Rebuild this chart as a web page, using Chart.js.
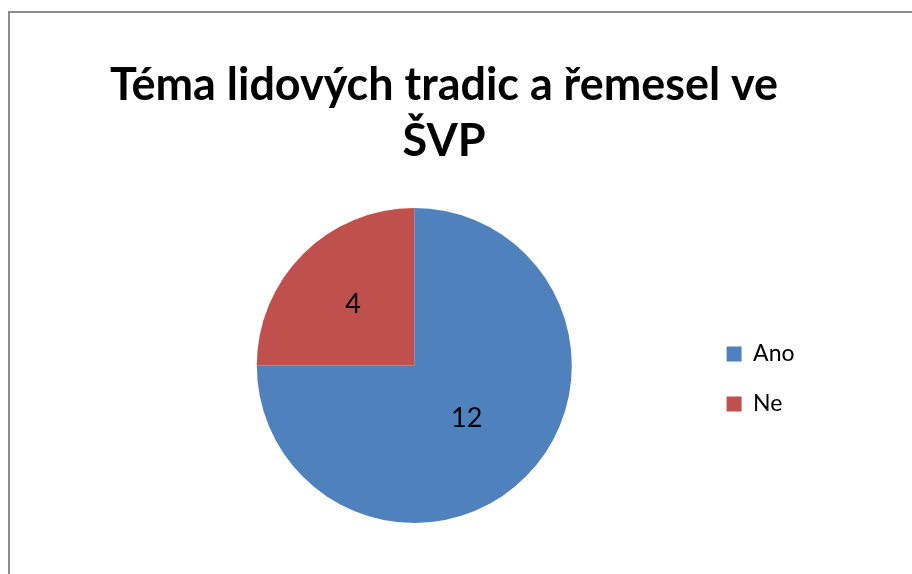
<!DOCTYPE html>
<html><head><meta charset="utf-8">
<script src="https://cdn.jsdelivr.net/npm/chart.js@4"></script>
<style>
html,body{margin:0;padding:0;background:#fff;overflow:hidden;width:912px;height:574px;}
#frame{position:absolute;left:8px;top:11px;width:1000px;height:1000px;border:2px solid #8c8c8c;box-sizing:border-box}
canvas{position:absolute;left:0;top:0}
</style></head><body>
<div id="frame"></div>
<canvas id="c" width="912" height="574"></canvas>
<script>
const titleLines = ['Téma lidových tradic a řemesel ve', 'ŠVP'];
const categories = ['Ano', 'Ne'];
const values = [12, 4];

const sliceColors = ['#4F81BD', '#C0504D'];
const labelRadiusFactor = [0.47, 0.55];
const FONT = "Lato, 'Open Sans', sans-serif";

const titlePlacement = {
  id: 'titlePlacement',
  afterLayout(chart) {
    const t = chart.titleBlock;
    if (t) { t.left = 110; t.right = 778; }
  }
};

const sliceLabels = {
  id: 'sliceLabels',
  afterDatasetsDraw(chart) {
    const ctx = chart.ctx;
    const meta = chart.getDatasetMeta(0);
    ctx.save();
    ctx.font = "27px " + FONT;
    ctx.fillStyle = '#000';
    ctx.textAlign = 'center';
    ctx.textBaseline = 'middle';
    meta.data.forEach((arc, i) => {
      const a = (arc.startAngle + arc.endAngle) / 2;
      const r = arc.outerRadius * labelRadiusFactor[i];
      const x = arc.x + Math.cos(a) * r;
      const y = arc.y + Math.sin(a) * r;
      ctx.fillText(String(chart.data.datasets[0].data[i]), x, y);
    });
    ctx.restore();
  }
};

new Chart(document.getElementById('c'), {
  type: 'pie',
  data: {
    labels: categories,
    datasets: [{ data: values, backgroundColor: sliceColors, borderWidth: 0 }]
  },
  options: {
    responsive: false,
    animation: false,
    layout: { padding: { top: 0, left: 129, right: 107.5, bottom: 51 } },
    plugins: {
      tooltip: { enabled: false },
      title: {
        display: true,
        text: titleLines,
        color: '#000',
        font: { family: FONT, size: 45, weight: 'bold', lineHeight: 56/45 },
        padding: { top: 57.5, bottom: 38.5 }
      },
      legend: {
        position: 'right',
        fullSize: false,
        title: { display: true, text: '', font: { size: 12, lineHeight: 1.2 }, padding: { top: 6.3, bottom: 6.3 } },
        labels: {
          font: { family: FONT, size: 23 },
          color: '#000',
          boxWidth: 15,
          boxHeight: 15,
          padding: 27
        }
      }
    }
  },
  plugins: [titlePlacement, sliceLabels]
});
</script>
</body></html>
